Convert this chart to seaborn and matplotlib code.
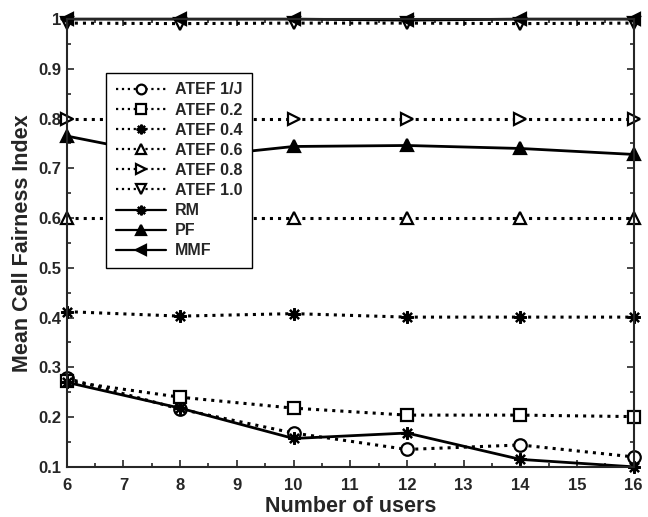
import pandas as pd
import matplotlib
matplotlib.use("Agg")
import matplotlib.pyplot as plt
import seaborn as sns
from matplotlib.ticker import AutoMinorLocator

# Values
users = [6, 8, 10, 12, 14, 16]
atef_1j = [0.278, 0.216, 0.168, 0.135, 0.144, 0.120]
atef_02 = [0.272, 0.240, 0.218, 0.204, 0.204, 0.201]
atef_04 = [0.412, 0.403, 0.408, 0.401, 0.401, 0.401]
atef_06 = [0.600, 0.600, 0.600, 0.600, 0.600, 0.600]
atef_08 = [0.800, 0.800, 0.800, 0.800, 0.800, 0.800]
atef_10 = [0.992, 0.991, 0.992, 0.992, 0.991, 0.992]
rm = [0.270, 0.218, 0.157, 0.168, 0.115, 0.100]
pf = [0.765, 0.720, 0.744, 0.746, 0.740, 0.728]
mmf = [1.000, 1.000, 1.000, 0.998, 1.000, 1.000]

series = [
    ("ATEF 1/J", atef_1j, ":", "o", "white"),
    ("ATEF 0.2", atef_02, ":", "s", "white"),
    ("ATEF 0.4", atef_04, ":", (8, 2, 0), "black"),
    ("ATEF 0.6", atef_06, ":", "^", "white"),
    ("ATEF 0.8", atef_08, ":", ">", "white"),
    ("ATEF 1.0", atef_10, ":", "v", "white"),
    ("RM", rm, "-", (8, 2, 0), "black"),
    ("PF", pf, "-", "^", "black"),
    ("MMF", mmf, "-", "<", "black"),
]

sns.set_style("ticks")
plt.rcParams['font.family'] = ['Liberation Sans', 'DejaVu Sans']
plt.rcParams['font.weight'] = 'bold'

fig = plt.figure(figsize=(6.48, 5.17), dpi=100)
ax = fig.add_axes([0.103, 0.097, 0.875, 0.866])

for name, vals, ls, mk, fc in series:
    df = pd.DataFrame({"users": users, "value": vals})
    sns.lineplot(data=df, x="users", y="value", ax=ax, color="black",
                 linestyle=ls, linewidth=2 if ls == "-" else 2.2,
                 marker=mk, markersize=9, markerfacecolor=fc,
                 markeredgecolor="black", markeredgewidth=1.6,
                 label=name, clip_on=False)

ax.set_xlim(6, 16)
ax.set_ylim(0.1, 1.0)
ax.set_xticks(range(6, 17))
ax.set_yticks([0.1, 0.2, 0.3, 0.4, 0.5, 0.6, 0.7, 0.8, 0.9, 1.0])
ax.set_yticklabels(["0.1", "0.2", "0.3", "0.4", "0.5", "0.6", "0.7", "0.8", "0.9", "1"])
ax.xaxis.set_minor_locator(AutoMinorLocator(2))
ax.yaxis.set_minor_locator(AutoMinorLocator(2))
ax.tick_params(which="both", direction="in", top=True, right=True,
               labelsize=12, width=1.2)
ax.tick_params(axis="x", which="major", pad=8)
ax.tick_params(axis="y", which="major", pad=4)
ax.tick_params(which="major", length=5)
ax.tick_params(which="minor", length=3)
for lab in ax.get_xticklabels() + ax.get_yticklabels():
    lab.set_fontweight("bold")
for sp in ax.spines.values():
    sp.set_linewidth(1.5)

ax.set_xlabel("Number of users", fontsize=15.5, fontweight="bold", labelpad=2)
ax.set_ylabel("Mean Cell Fairness Index", fontsize=15.5, fontweight="bold", labelpad=4)

leg = ax.legend(loc="upper left", bbox_to_anchor=(0.07, 0.88), frameon=True,
                fancybox=False, edgecolor="black", framealpha=1,
                prop={"weight": "bold", "size": 11.5}, handlelength=3.1,
                labelspacing=0.32, borderpad=0.6, handletextpad=0.6,
                borderaxespad=0)
leg.get_frame().set_linewidth(1.0)
for h in leg.legend_handles:
    h.set_markersize(7)
    h.set_linewidth(1.6)

fig.savefig("out.png", dpi=100)
